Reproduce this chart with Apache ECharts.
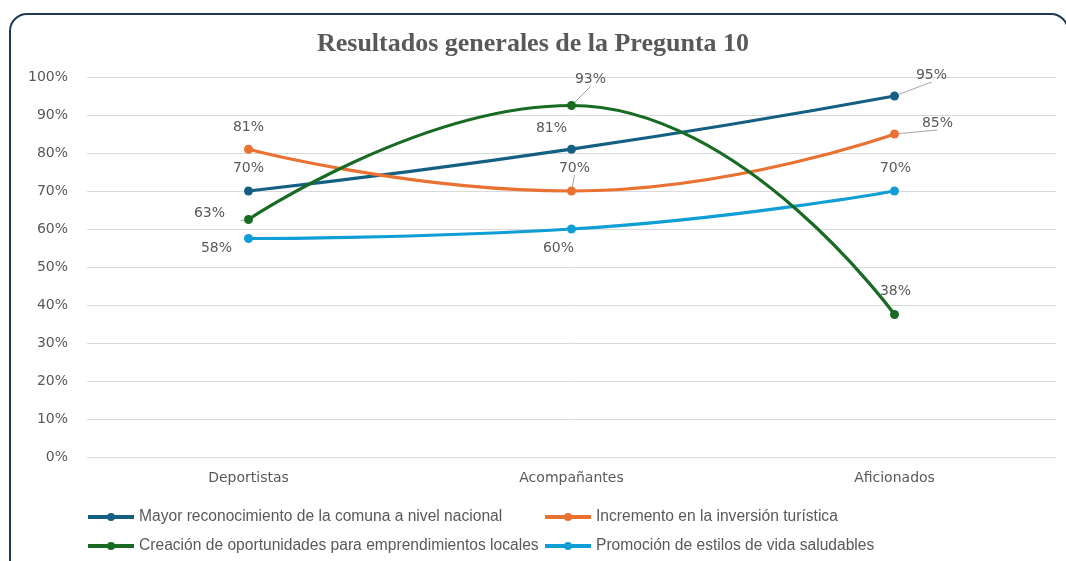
<!DOCTYPE html>
<html>
<head>
<meta charset="utf-8">
<title>Resultados generales de la Pregunta 10</title>
<script src="https://cdn.jsdelivr.net/npm/echarts@6/dist/echarts.min.js"></script>
<style>
  html, body { margin: 0; padding: 0; background: #fff; overflow: hidden; }
  #frame {
    position: absolute; left: 9px; top: 13px; width: 1060px; height: 620px;
    border: 2px solid #1f3a57; border-radius: 18px; box-sizing: border-box;
  }
  #chart { position: absolute; left: 0; top: 0; width: 1066px; height: 561px; }
</style>
</head>
<body>
<div id="frame"></div>
<div id="chart"></div>
<script>
// categorias y valores (%)
var categories = ['Deportistas', 'Acompañantes', 'Aficionados'];
var seriesNames = [
  'Mayor reconocimiento de la comuna a nivel nacional',
  'Incremento en la inversión turística',
  'Creación de oportunidades para emprendimientos locales',
  'Promoción de estilos de vida saludables'
];
var reconocimiento = [70, 81, 95];
var inversion = [81, 70, 85];
var emprendimientos = [62.5, 92.5, 37.5];
var saludables = [57.5, 60, 70];
var yTicks = [0, 10, 20, 30, 40, 50, 60, 70, 80, 90, 100];

var colors = ['#156082', '#E97132', '#196B24', '#0F9ED5'];

// desplazamiento de cada etiqueta respecto a su punto
var labelOffsets = [
  [[0, -23], [-20, -21], [37, -21]],
  [[0, -22], [3, -23], [43, -11]],
  [[-39, -6], [19, -26], [1, -23]],
  [[-32, 10], [-13, 19], [1, -23]]
];
// etiquetas con linea guia
var withGuide = [
  [false, false, true],
  [false, true, true],
  [true, true, false],
  [false, false, false]
];
// posicion de cada leyenda [left, top]
var legendPos = [[86, 509], [543, 509], [86, 538], [543, 538]];

var values = [reconocimiento, inversion, emprendimientos, saludables];
var font = 'DejaVu Sans';

var chart = echarts.init(document.getElementById('chart'));

var series = values.map(function (vals, s) {
  return {
    name: seriesNames[s],
    type: 'line',
    smooth: 0.5,
    symbol: 'circle',
    symbolSize: 9,
    lineStyle: { width: 3.2, color: colors[s] },
    itemStyle: { color: colors[s] },
    data: vals.map(function (v, i) {
      return {
        value: v,
        label: {
          show: true,
          position: 'inside',
          offset: labelOffsets[s][i],
          formatter: function (p) { return Math.round(p.value) + '%'; },
          color: '#595959',
          fontFamily: font,
          fontSize: 14
        },
        labelLine: {
          show: withGuide[s][i],
          lineStyle: { color: '#a6a6a6', width: 1 }
        }
      };
    }),
    z: s === 2 ? 3 : 2
  };
});

var legends = seriesNames.map(function (name, s) {
  return {
    data: [name],
    left: legendPos[s][0],
    top: legendPos[s][1],
    padding: 0,
    itemWidth: 46,
    itemHeight: 10,
    lineStyle: { width: 4 },
    textStyle: { fontFamily: 'Liberation Sans', fontSize: 15.6, color: '#595959' }
  };
});

chart.setOption({
  animation: false,
  color: colors,
  title: {
    text: 'Resultados generales de la Pregunta 10',
    left: 'center',
    top: 26,
    textStyle: {
      fontFamily: 'Liberation Serif',
      fontWeight: 'bold',
      fontSize: 26,
      color: '#595959'
    }
  },
  legend: legends,
  grid: { left: 87, right: 10, top: 77, bottom: 104 },
  xAxis: {
    type: 'category',
    data: categories,
    boundaryGap: true,
    axisLine: { show: true, lineStyle: { color: '#d9d9d9' } },
    axisTick: { show: false },
    axisLabel: { color: '#595959', fontFamily: font, fontSize: 14, margin: 14 }
  },
  yAxis: {
    type: 'value',
    min: yTicks[0],
    max: yTicks[yTicks.length - 1],
    interval: yTicks[1] - yTicks[0],
    axisLine: { show: false },
    axisTick: { show: false },
    axisLabel: { color: '#595959', fontFamily: font, fontSize: 14, margin: 19, formatter: '{value}%' },
    splitLine: { lineStyle: { color: '#d9d9d9', width: 1 } }
  },
  series: series
});
</script>
</body>
</html>
